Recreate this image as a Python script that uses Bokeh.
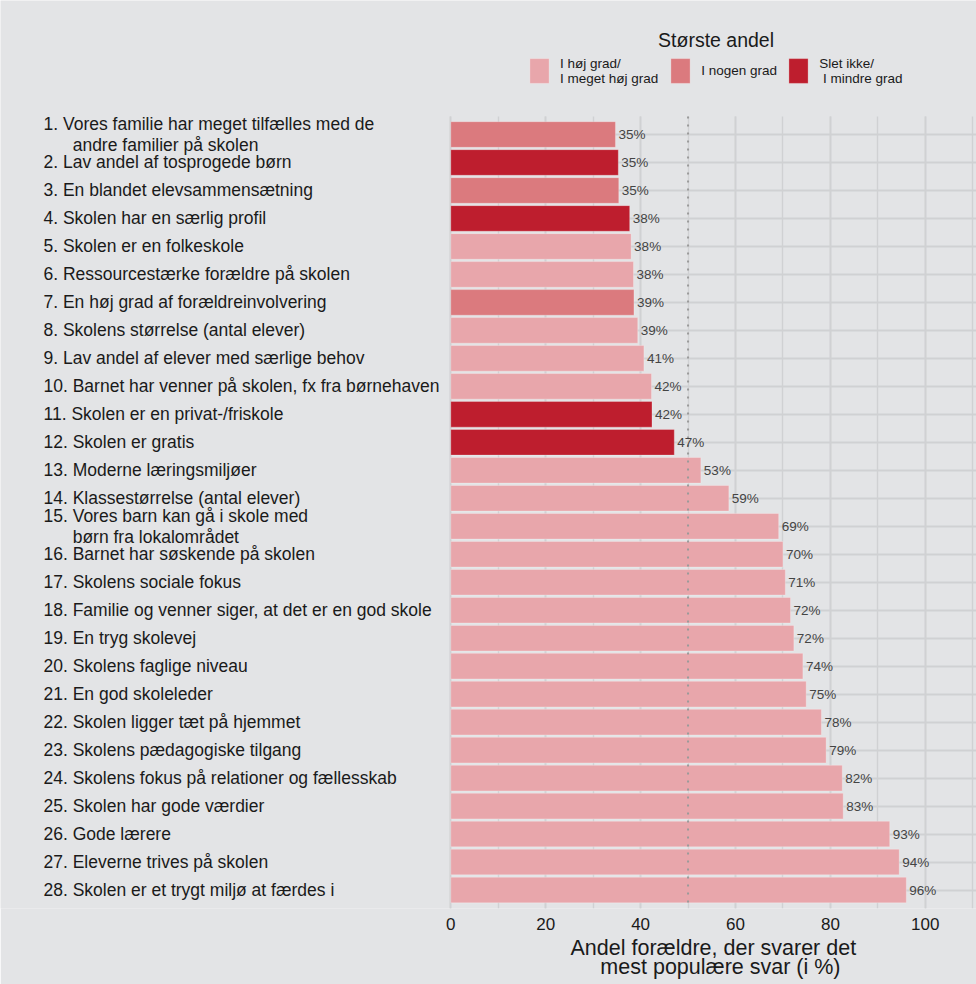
from bokeh.plotting import figure
from bokeh.models import (Range1d, SingleIntervalTicker, FixedTicker, Grid, Legend,
                          LegendItem, Label, Title, ColumnDataSource)
from bokeh.core.properties import value
from bokeh.embed import file_html
from bokeh.resources import INLINE

NB = "\u00a0"

# ---------------- data ----------------
labels = [
    "1. Vores familie har meget tilfælles med de\n" + NB * 6 + "andre familier på skolen",
    "2. Lav andel af tosprogede børn",
    "3. En blandet elevsammensætning",
    "4. Skolen har en særlig profil",
    "5. Skolen er en folkeskole",
    "6. Ressourcestærke forældre på skolen",
    "7. En høj grad af forældreinvolvering",
    "8. Skolens størrelse (antal elever)",
    "9. Lav andel af elever med særlige behov",
    "10. Barnet har venner på skolen, fx fra børnehaven",
    "11. Skolen er en privat-/friskole",
    "12. Skolen er gratis",
    "13. Moderne læringsmiljøer",
    "14. Klassestørrelse (antal elever)",
    "15. Vores barn kan gå i skole med\n" + NB * 6 + "børn fra lokalområdet",
    "16. Barnet har søskende på skolen",
    "17. Skolens sociale fokus",
    "18. Familie og venner siger, at det er en god skole",
    "19. En tryg skolevej",
    "20. Skolens faglige niveau",
    "21. En god skoleleder",
    "22. Skolen ligger tæt på hjemmet",
    "23. Skolens pædagogiske tilgang",
    "24. Skolens fokus på relationer og fællesskab",
    "25. Skolen har gode værdier",
    "26. Gode lærere",
    "27. Eleverne trives på skolen",
    "28. Skolen er et trygt miljø at færdes i",
]

values = [34.7, 35.3, 35.4, 37.7, 38.0, 38.5, 38.6, 39.4, 40.7, 42.3, 42.4, 47.1,
          52.7, 58.6, 69.1, 70.0, 70.5, 71.6, 72.3, 74.2, 74.9, 78.1, 79.1, 82.5,
          82.7, 92.5, 94.5, 96.0]

pct_labels = ["35%", "35%", "35%", "38%", "38%", "38%", "39%", "39%", "41%", "42%",
              "42%", "47%", "53%", "59%", "69%", "70%", "71%", "72%", "72%", "74%",
              "75%", "78%", "79%", "82%", "83%", "93%", "94%", "96%"]

# 0 = I høj grad / I meget høj grad, 1 = I nogen grad, 2 = Slet ikke / I mindre grad
groups = [1, 2, 1, 2, 0, 0, 1, 0, 0, 0, 2, 2,
          0, 0, 0, 0, 0, 0, 0, 0, 0, 0, 0, 0, 0, 0, 0, 0]

group_names = ["I høj grad/\nI meget høj grad", "I nogen grad",
               "Slet ikke/\n" + NB + "I mindre grad"]
group_colors = ["#e8a6ab", "#db7a7e", "#be1e2e"]

legend_title = "Største andel"
x_title = "Andel forældre, der svarer det\n" + NB * 5 + "mest populære svar (i %)"
reference_value = 50
x_ticks_interval = 20

# ---------------- layout constants ----------------
FONT = "Liberation Sans"
BG = "#e3e4e6"
GRID = "#d0d1d3"
TXT = "#1a1a1a"
W, H = 976, 984
x_lo, x_hi = -94.9, 110.79
y_top, y_bot = -3.789, 28.66
panel_top = 0.357
label_x = -85.84
legend_x = [526.9, 668.3, 786.3]   # screen px from frame left
legend_y = 821.8                   # screen px from frame bottom

rows = list(range(1, len(labels) + 1))
src = ColumnDataSource(dict(
    row=rows, label=labels, value=values, pct=pct_labels,
    color=[group_colors[g] for g in groups],
))

p = figure(width=W, height=H, output_backend="svg", toolbar_location=None,
           x_range=Range1d(x_lo, x_hi), y_range=Range1d(y_bot, y_top),
           y_axis_location=None, min_border=0, min_border_bottom=H - 908)
p.center = []
p.background_fill_color = BG
p.border_fill_color = BG
p.outline_line_color = None

xt = SingleIntervalTicker(interval=x_ticks_interval, num_minor_ticks=2)

vgrid = Grid(dimension=0, ticker=xt, bounds=(0, 111), cross_bounds=(panel_top, y_bot),
             grid_line_color=GRID, grid_line_width=1.8,
             minor_grid_line_color=GRID, minor_grid_line_width=1.4)
hgrid = Grid(dimension=1, ticker=FixedTicker(ticks=rows), cross_bounds=(0, x_hi),
             grid_line_color=GRID, grid_line_width=1.8)
p.add_layout(vgrid)
p.add_layout(hgrid)

ax = p.xaxis[0]
ax.ticker = xt
ax.bounds = (0, 100)
ax.axis_line_color = None
ax.major_tick_line_color = None
ax.minor_tick_line_color = None
ax.major_label_text_font = FONT
ax.major_label_text_font_size = "17px"
ax.major_label_text_color = TXT
ax.major_label_standoff = 3

bars = p.hbar(y="row", left=0, right="value", height=0.915, source=src,
              fill_color="color", line_color="white", line_alpha=0.25, line_width=1)

p.segment(x0=reference_value, x1=reference_value, y0=panel_top, y1=y_bot,
          line_color="#9a9a9a", line_width=2, line_dash="2 6")

p.text(x=label_x, y="row", text="label", source=src, text_align="left",
       text_baseline="middle", text_font=value(FONT), text_font_size="17.5px",
       text_line_height=1.05, text_color=TXT)

p.text(x="value", y="row", text="pct", source=src, x_offset=3,
       text_align="left", text_baseline="alphabetic", text_font=value(FONT),
       text_font_size="13.5px", text_color="#444444")

rep = [groups.index(g) for g in range(3)]
for g in range(3):
    lg = Legend(
        items=[LegendItem(label=group_names[g], renderers=[bars], index=rep[g])],
        orientation="horizontal", location=(legend_x[g], legend_y),
        glyph_width=24, glyph_height=31, label_standoff=9, spacing=0,
        padding=0, margin=0, border_line_color=None, background_fill_alpha=0,
        label_text_font=FONT, label_text_font_size="13.5px", label_text_color=TXT,
        label_text_line_height=1.16,
    )
    p.add_layout(lg)

p.add_layout(Label(x=55.9, y=-2.395, text=legend_title, text_align="center",
                   text_baseline="middle", text_font=FONT, text_font_size="19.5px",
                   text_color=TXT))

p.add_layout(Title(text=x_title, align="left", offset=570, standoff=3,
                   text_font=FONT, text_font_size="21.5px", text_font_style="normal",
                   text_line_height=0.8, text_color=TXT), "below")

open("out.html", "w").write(file_html(p, INLINE))
